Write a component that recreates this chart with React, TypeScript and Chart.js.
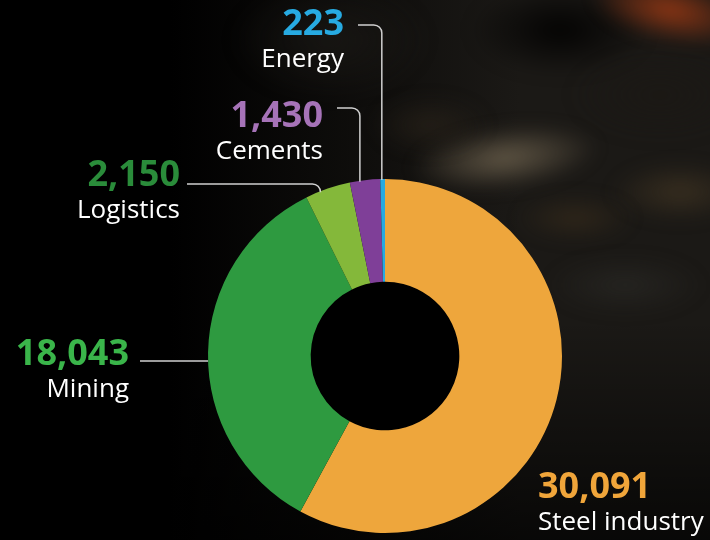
import React, { useEffect, useRef } from "react";
import { Chart, registerables } from "chart.js";

Chart.register(...registerables);

const categories = ["Steel industry", "Mining", "Logistics", "Cements", "Energy"];
const values = [30091, 18043, 2150, 1430, 223];
const valueLabels = ["30,091", "18,043", "2,150", "1,430", "223"];
const sliceColors = ["#eea63c", "#2e9a40", "#84b83a", "#7f3f98", "#27aae1"];
const textColors = ["#f0a53a", "#3ab54a", "#2a8c3a", "#a673b8", "#27aae1"];

// label layout: text anchor, number baseline, leader line y (null = no leader), gap before leader
const labelLayout = [
  { x: 538, y: 498, align: "left", lineY: null as number | null, gap: 0 },
  { x: 129, y: 365, align: "right", lineY: 361, gap: 11 },
  { x: 180, y: 186, align: "right", lineY: 184, gap: 7 },
  { x: 323, y: 127, align: "right", lineY: 108, gap: 14 },
  { x: 344, y: 35, align: "right", lineY: 25, gap: 14 },
];

const bgPlugin = {
  id: "bg",
  beforeDraw(chart: any) {
    const ctx = chart.ctx as CanvasRenderingContext2D;
    const w = chart.width, h = chart.height;
    ctx.save();
    ctx.fillStyle = "#000";
    ctx.fillRect(0, 0, w, h);
    const lg = ctx.createLinearGradient(170, 0, 520, 0);
    lg.addColorStop(0, "rgba(27,25,22,0)");
    lg.addColorStop(1, "rgba(27,25,22,1)");
    ctx.fillStyle = lg;
    ctx.fillRect(0, 0, w, h);
    const vg = ctx.createLinearGradient(0, 320, 0, 540);
    vg.addColorStop(0, "rgba(0,0,0,0)");
    vg.addColorStop(1, "rgba(0,0,0,0.7)");
    ctx.fillStyle = vg;
    ctx.fillRect(0, 0, w, h);
    ctx.filter = "blur(8px)";
    const blob = (x: number, y: number, rx: number, ry: number, rot: number, c: string) => {
      ctx.save();
      ctx.translate(x, y);
      ctx.rotate(rot);
      ctx.scale(rx, ry);
      const g = ctx.createRadialGradient(0, 0, 0, 0, 0, 1);
      g.addColorStop(0, c);
      g.addColorStop(1, c.replace(/[\d.]+\)$/, "0)"));
      ctx.fillStyle = g;
      ctx.beginPath();
      ctx.arc(0, 0, 1, 0, Math.PI * 2);
      ctx.fill();
      ctx.restore();
    };
    blob(560, 30, 90, 45, 0, "rgba(0,0,0,0.85)");
    blob(330, 40, 100, 60, 0, "rgba(35,32,28,0.5)");
    blob(505, 158, 95, 32, -0.12, "rgba(105,94,75,0.9)");
    blob(430, 125, 60, 30, 0, "rgba(55,45,32,0.45)");
    blob(680, 192, 70, 30, 0, "rgba(75,60,38,0.6)");
    blob(575, 218, 60, 24, 0, "rgba(68,52,30,0.5)");
    blob(625, 285, 80, 30, 0, "rgba(58,58,54,0.35)");
    blob(670, 10, 80, 32, 0.2, "rgba(150,56,20,0.95)");
    blob(660, 95, 90, 45, 0, "rgba(28,24,20,0.5)");
    ctx.filter = "none";
    ctx.restore();
  },
};

const holePlugin = {
  id: "hole",
  beforeDatasetsDraw(chart: any) {
    const ctx = chart.ctx as CanvasRenderingContext2D;
    const arc = chart.getDatasetMeta(0).data[0];
    if (!arc) return;
    const p = arc.getProps(["x", "y", "innerRadius", "outerRadius"], true);
    ctx.save();
    ctx.fillStyle = "#000";
    ctx.beginPath();
    ctx.arc(p.x, p.y, p.innerRadius + 1, 0, Math.PI * 2);
    ctx.fill();
    ctx.restore();
  },
};

const labelPlugin = {
  id: "labels",
  afterDraw(chart: any) {
    const ctx = chart.ctx as CanvasRenderingContext2D;
    const meta = chart.getDatasetMeta(0);
    ctx.save();
    meta.data.forEach((arc: any, i: number) => {
      const L = labelLayout[i];
      const props = arc.getProps(["x", "y", "startAngle", "endAngle", "outerRadius"], true);
      const cx = props.x, cy = props.y, r = props.outerRadius;
      ctx.textAlign = L.align as CanvasTextAlign;
      ctx.textBaseline = "alphabetic";
      ctx.font = "bold 36px 'Open Sans'";
      ctx.fillStyle = textColors[i];
      ctx.fillText(valueLabels[i], L.x, L.y);
      ctx.font = "26px 'Open Sans'";
      ctx.fillStyle = "#ffffff";
      ctx.fillText(categories[i], L.x, L.y + 32);
      if (L.lineY === null) return;
      ctx.strokeStyle = "#d0d0d0";
      ctx.lineWidth = 1.5;
      const startX = L.x + L.gap;
      ctx.beginPath();
      if (i === 1) {
        const dy = L.lineY - cy;
        const ex = cx - Math.sqrt(r * r - dy * dy);
        ctx.moveTo(startX, L.lineY);
        ctx.lineTo(ex, L.lineY);
      } else {
        const a = props.startAngle + (props.endAngle - props.startAngle) / 3;
        const vx = cx + r * Math.cos(a);
        const dx = vx - cx;
        const ey = cy - Math.sqrt(r * r - dx * dx);
        const cr = 8;
        ctx.moveTo(startX, L.lineY);
        ctx.lineTo(vx - cr, L.lineY);
        ctx.arcTo(vx, L.lineY, vx, L.lineY + cr, cr);
        ctx.lineTo(vx, ey + 1);
      }
      ctx.stroke();
    });
    ctx.restore();
  },
};

export default function App() {
  const ref = useRef<HTMLCanvasElement>(null);
  useEffect(() => {
    document.body.style.margin = "0";
    const chart = new Chart(ref.current!, {
      type: "doughnut",
      data: {
        labels: categories,
        datasets: [
          {
            data: values,
            backgroundColor: sliceColors,
            borderWidth: 0,
          },
        ],
      },
      options: {
        responsive: false,
        maintainAspectRatio: false,
        animation: false,
        cutout: "42%",
        layout: { padding: { left: 208, right: 148, top: 179, bottom: 7 } },
        plugins: { legend: { display: false }, tooltip: { enabled: false } },
      },
      plugins: [bgPlugin, holePlugin, labelPlugin],
    });
    return () => chart.destroy();
  }, []);
  return (
    <div style={{ position: "fixed", left: 0, top: 0, width: 710, height: 540 }}>
      <canvas ref={ref} width={710} height={540} />
    </div>
  );
}
